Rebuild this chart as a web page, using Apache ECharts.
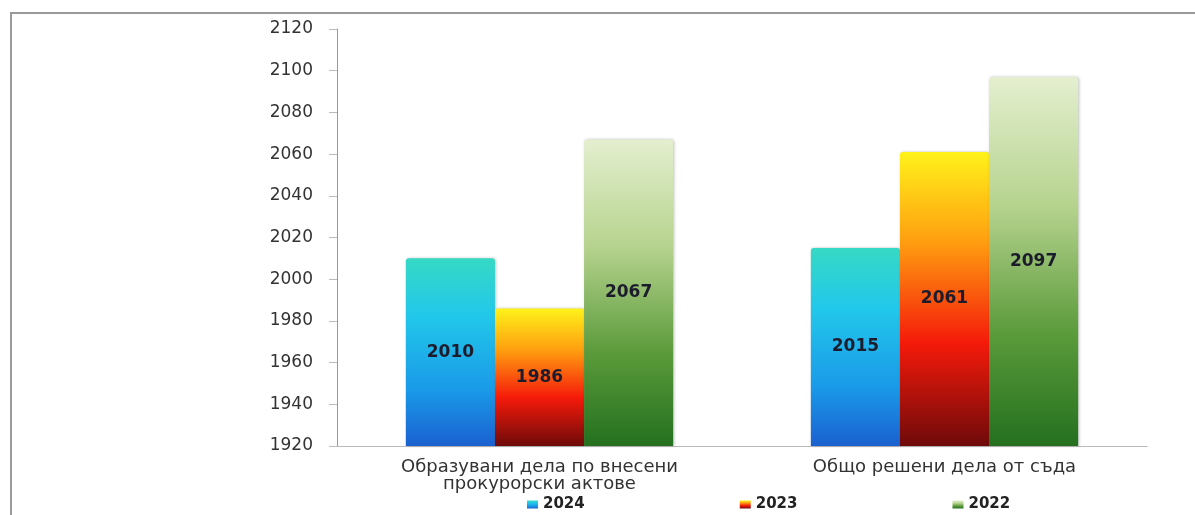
<!DOCTYPE html>
<html><head><meta charset="utf-8">
<script src="https://cdn.jsdelivr.net/npm/echarts@6/dist/echarts.min.js"></script>
<style>html,body{margin:0;padding:0;background:#fff}#c{width:1195px;height:515px}
#frame{position:absolute;left:10px;top:12px;right:0;bottom:0;border-left:2px solid #9a9a9a;border-top:2px solid #9a9a9a;pointer-events:none}</style>
</head><body><div id="c"></div><div id="frame"></div>
<script>
const categories = ['Образувани дела по внесени\nпрокурорски актове', 'Общо решени дела от съда'];
const seriesNames = ['2024', '2023', '2022'];
const values2024 = [2010, 2015];
const values2023 = [1986, 2061];
const values2022 = [2067, 2097];

const grads = [
  [[0,'#36d9c4'],[0.3,'#22c8ea'],[0.7,'#1a9ae8'],[1,'#1a60d0']],
  [[0,'#fff21a'],[0.3,'#ffa010'],[0.65,'#f51a0a'],[1,'#6e0a0a']],
  [[0,'#e4efcf'],[0.35,'#b6d38e'],[0.7,'#5a9a3a'],[1,'#24701f']]
];
function g(stops){return new echarts.graphic.LinearGradient(0,0,0,1,stops.map(s=>({offset:s[0],color:s[1]})));}
const data = [values2024, values2023, values2022];
const chart = echarts.init(document.getElementById('c'));
chart.setOption({
  animation:false,
  grid:{left:337,right:48,top:29,bottom:69},
  legend:{top:492,left:522,itemGap:155,itemWidth:11,itemHeight:8,icon:'rect',
    textStyle:{fontFamily:'DejaVu Sans',fontWeight:'bold',fontSize:15,color:'#222'},
    data:seriesNames},
  xAxis:{type:'category',data:categories,
    axisLine:{lineStyle:{color:'#bbb'}},axisTick:{show:false},
    axisLabel:{fontFamily:'DejaVu Sans',fontSize:18,color:'#333',lineHeight:17,margin:13}},
  yAxis:{type:'value',min:1920,max:2120,interval:20,
    axisLine:{show:true,lineStyle:{color:'#999'}},
    axisTick:{show:true,length:8,lineStyle:{color:'#bbb'}},
    splitLine:{show:false},
    axisLabel:{fontFamily:'DejaVu Sans',fontSize:17,color:'#333',margin:24,formatter:v=>String(v)}},
  series: seriesNames.map((n,i)=>({
    name:n,type:'bar',data:data[i],barGap:'0%',barCategoryGap:'34%',
    itemStyle:{color:g(grads[i]),borderRadius:[3,3,0,0],shadowColor:'rgba(0,0,0,0.25)',shadowBlur:3,shadowOffsetX:1},
    label:{show:true,position:'inside',fontFamily:'DejaVu Sans',fontWeight:'bold',fontSize:17,color:'#1c1c2c'}
  }))
});
</script></body></html>
